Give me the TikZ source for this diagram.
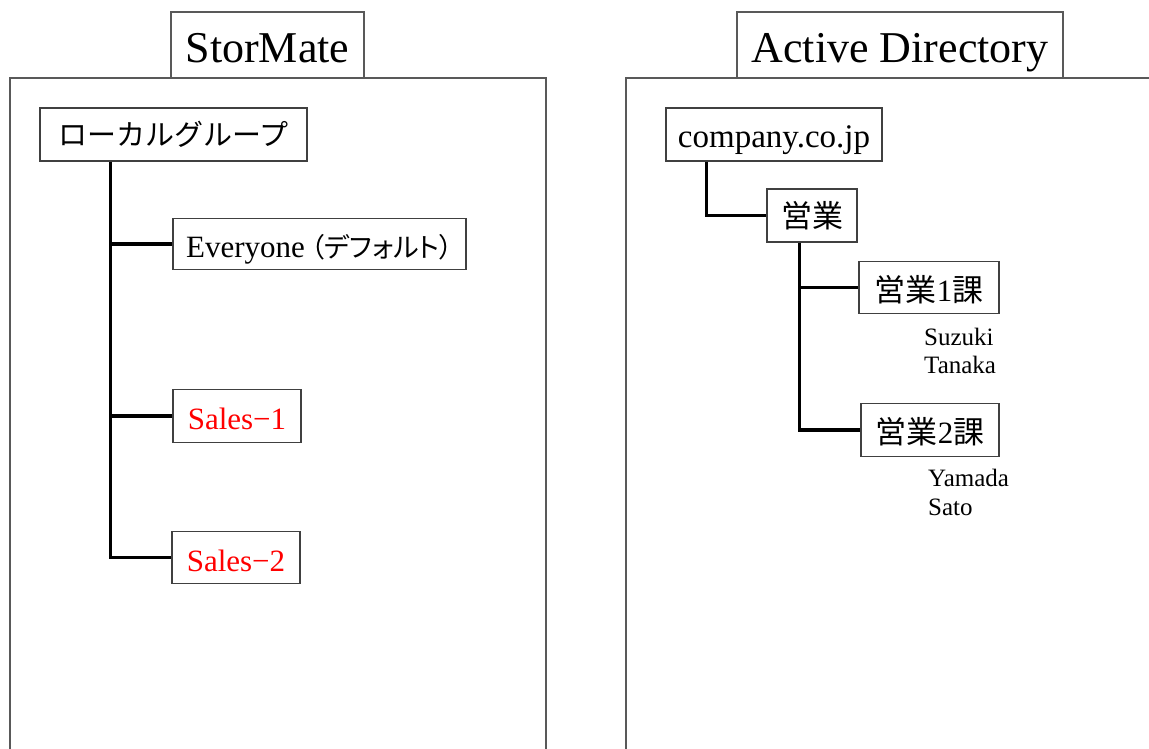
\documentclass[tikz,border=0pt]{standalone}
\usepackage{fontspec}
\setmainfont{Liberation Serif}
\newfontfamily\jp{Noto Sans CJK JP}
\newfontfamily\jpp[RawFeature=+palt]{Noto Sans CJK JP}
\usetikzlibrary{calc}
\begin{document}
\begin{tikzpicture}[x=1pt,y=-1pt,
  frame/.style={draw=black!65,line width=1.2pt},
  titlebox/.style={frame,fill=white,inner sep=0pt,text height=36pt,text depth=0pt,font=\fontsize{44}{48}\selectfont},
  box/.style={draw=black!75,line width=1.4pt,fill=white,inner sep=0pt},
  lbl/.style={box,text height=27pt,text depth=0pt,font=\fontsize{31}{34}\selectfont},
  jlbl/.style={box,font=\jp\fontsize{29}{34}\selectfont},
  redlbl/.style={lbl,text=red},
  conn/.style={line width=3.6pt,black},
  member/.style={anchor=west,inner sep=0pt,font=\fontsize{25}{27}\selectfont}]
\useasboundingbox (0,0) rectangle (1149,749);
% frames
\draw[frame] (10,749) -- (10,78) -- (546,78) -- (546,749);
\draw[frame] (626,749) -- (626,78) -- (1149,78);
\node[titlebox,minimum width=193,minimum height=66] (tsm) at (267.5,45) {StorMate};
\node[titlebox,minimum width=326,minimum height=66] (tad) at (900,45) {Active Directory};
% StorMate tree
\node[jlbl,minimum width=267,minimum height=53] (lg) at (173.5,134.5) {ローカルグループ};
\node[lbl,minimum width=293,minimum height=51] (every) at (319.5,244) {Everyone\hspace{6pt}{\jpp\fontsize{27}{30}\selectfont （デフォルト）}};
\node[redlbl,minimum width=128,minimum height=53] (s1) at (237,416) {Sales−1};
\node[redlbl,minimum width=128,minimum height=52] (s2) at (236,557.5) {Sales−2};
\coordinate (t1) at ($(lg.south west)+(71,0)$);
\draw[conn] (t1) |- (s2.west);
\draw[conn] (t1 |- every.west) -- (every.west);
\draw[conn] (t1 |- s1.west) -- (s1.west);
% Active Directory tree
\node[lbl,minimum width=216,minimum height=53,font=\fontsize{33}{36}\selectfont] (company) at (774,134.5) {company.co.jp};
\node[jlbl,minimum width=90,minimum height=53,font=\jp\fontsize{31}{34}\selectfont] (eigyo) at (812,215.5) {営業};
\node[lbl,minimum width=140,minimum height=52] (e1) at (929,287.5) {{\jp 営業}1{\jp 課}};
\node[lbl,minimum width=138,minimum height=53] (e2) at (930,430) {{\jp 営業}2{\jp 課}};
\coordinate (t2) at ($(company.south west)+(41,0)$);
\draw[conn] (t2) |- (eigyo.west);
\coordinate (t3) at ($(eigyo.south west)+(33,0)$);
\draw[conn] (t3) |- (e2.west);
\draw[conn] (t3 |- e1.west) -- (e1.west);
\node[member] (suzuki) at (924,337) {Suzuki};
\node[member] (tanaka) at (924,365) {Tanaka};
\node[member] (yamada) at (928,478) {Yamada};
\node[member] (sato) at (928,507) {Sato};
\end{tikzpicture}
\end{document}
